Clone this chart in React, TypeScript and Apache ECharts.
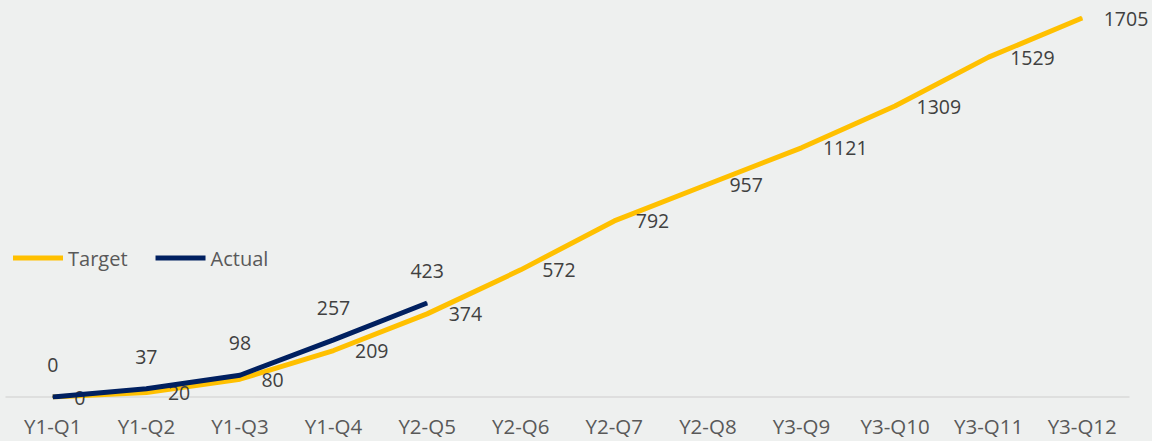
import React, { useEffect, useRef } from "react";
import * as echarts from "echarts";

const categories = ["Y1-Q1", "Y1-Q2", "Y1-Q3", "Y1-Q4", "Y2-Q5", "Y2-Q6", "Y2-Q7", "Y2-Q8", "Y3-Q9", "Y3-Q10", "Y3-Q11", "Y3-Q12"];
const targetValues = [0, 20, 80, 209, 374, 572, 792, 957, 1121, 1309, 1529, 1705];
const actualValues: (number | null)[] = [0, 37, 98, 257, 423, null, null, null, null, null, null, null];

const FONT = "Open Sans";

export default function App() {
  const ref = useRef<HTMLDivElement>(null);
  useEffect(() => {
    if (!ref.current) return;
    const chart = echarts.init(ref.current, null, { renderer: "svg" });
    chart.setOption({
      animation: false,
      backgroundColor: "#EEF0EF",
      textStyle: { fontFamily: FONT },
      grid: { left: 6, right: 23, top: 18, bottom: 44, containLabel: false },
      legend: {
        left: 8,
        top: 243,
        icon: "rect",
        itemWidth: 50,
        itemHeight: 5,
        itemGap: 28,
        textStyle: { fontFamily: FONT, fontSize: 20, color: "#595959" },
        data: ["Target", "Actual"],
      },
      xAxis: {
        type: "category",
        data: categories,
        boundaryGap: true,
        axisLine: { show: true, lineStyle: { color: "#D9D9D9", width: 1.5 } },
        axisTick: { show: false },
        axisLabel: { fontFamily: FONT, fontSize: 20.5, color: "#595959", margin: 18 },
      },
      yAxis: {
        type: "value",
        min: 0,
        max: "dataMax",
        show: false,
        splitLine: { show: false },
      },
      series: [
        {
          name: "Target",
          type: "line",
          data: targetValues,
          symbol: "circle",
          symbolSize: 1,
          showSymbol: true,
          itemStyle: { color: "#FFC000" },
          lineStyle: { color: "#FFC000", width: 5 },
          label: {
            show: true,
            position: "right",
            distance: 21,
            fontFamily: FONT,
            fontSize: 19.5,
            color: "#404040",
          },
          z: 2,
        },
        {
          name: "Actual",
          type: "line",
          data: actualValues,
          symbol: "circle",
          symbolSize: 1,
          showSymbol: true,
          itemStyle: { color: "#002060" },
          lineStyle: { color: "#002060", width: 5 },
          label: {
            show: true,
            position: "top",
            distance: 22,
            fontFamily: FONT,
            fontSize: 19.5,
            color: "#404040",
          },
          z: 3,
        },
      ],
    });
    return () => chart.dispose();
  }, []);
  return (
    <div
      ref={ref}
      style={{ position: "absolute", left: 0, top: 0, width: 1152, height: 441 }}
    />
  );
}
